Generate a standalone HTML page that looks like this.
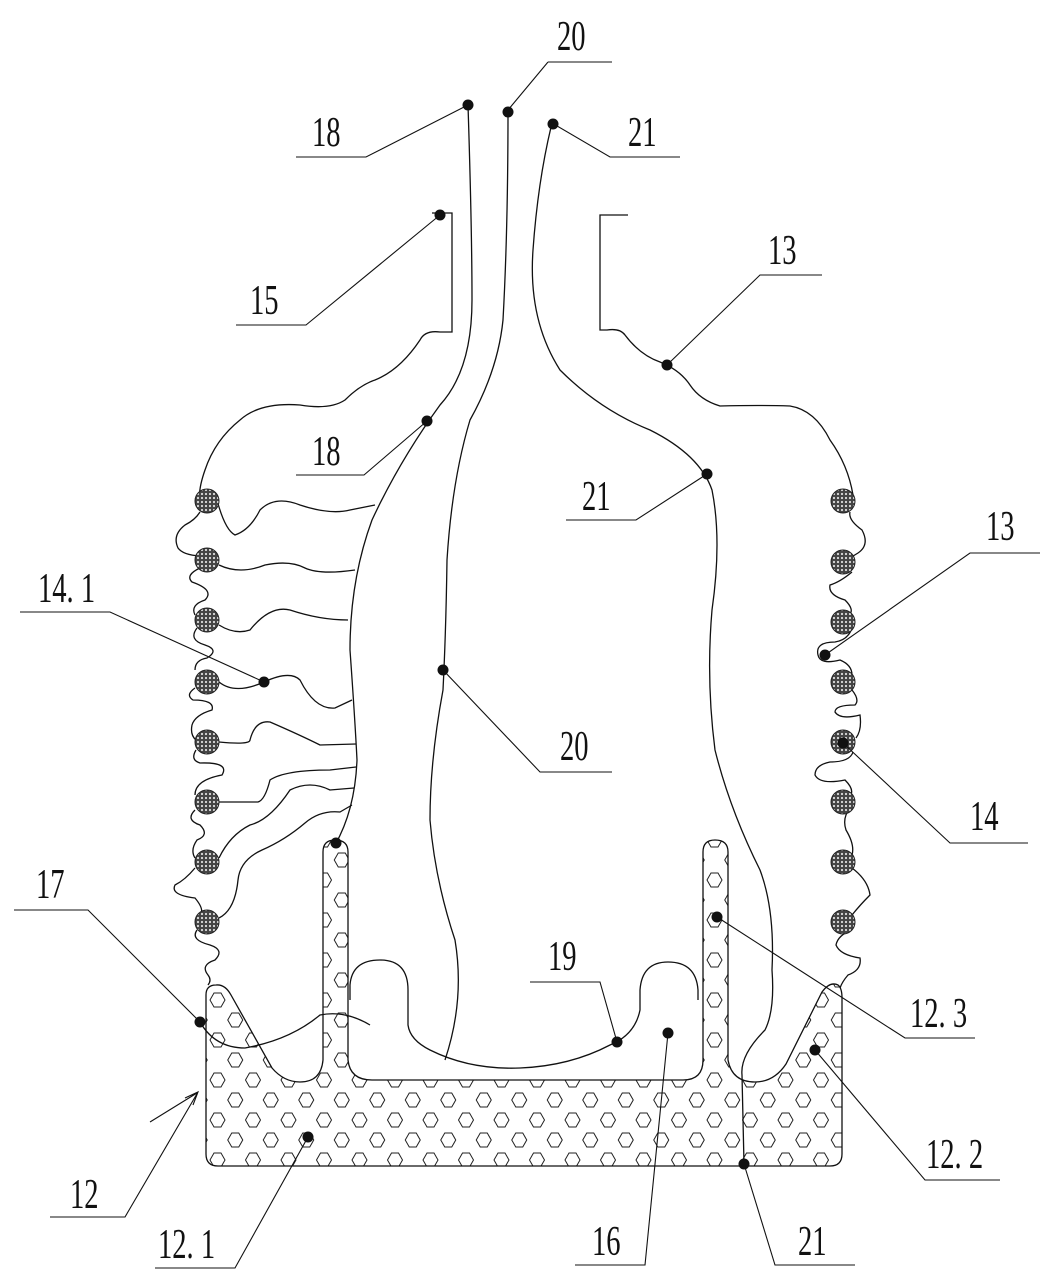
<!DOCTYPE html>
<html><head><meta charset="utf-8"><style>
html,body{margin:0;padding:0;background:#fff}
svg{display:block}
text{font-family:"Liberation Serif",serif;font-size:42px;fill:#111}
</style></head><body>
<svg width="1055" height="1279" viewBox="0 0 1055 1279" xmlns="http://www.w3.org/2000/svg">
<defs>
<pattern id="hex" x="0" y="0" width="35.5" height="40" patternUnits="userSpaceOnUse" patternTransform="translate(206,990)">
<polygon points="4,10 8,3 15,3 19,10 15,17 8,17" fill="none" stroke="#222" stroke-width="1"/>
<polygon points="21.75,30 25.75,23 32.75,23 36.75,30 32.75,37 25.75,37" fill="none" stroke="#222" stroke-width="1"/>
<polygon points="-13.75,30 -9.75,23 -2.75,23 1.25,30 -2.75,37 -9.75,37" fill="none" stroke="#222" stroke-width="1"/>
</pattern>
<pattern id="dots" width="4" height="4" patternUnits="userSpaceOnUse">
<rect width="4" height="4" fill="#444"/><circle cx="2" cy="2" r="1.1" fill="#ddd"/>
</pattern>
<clipPath id="tc"><path id="trayp" d="M206,995 Q206,985 216,985 Q225,984 231,995 L272,1068 Q284,1082 300,1082 Q321,1082 323,1060 L323,852 Q323,840 335,840 Q348,840 348,852 L348,1060 Q350,1080 372,1080 L683,1080 Q703,1080 703,1060 L703,852 Q703,840 715,840 Q728,840 728,852 L728,1060 Q732,1082 755,1082 Q774,1082 786,1064 L822,992 Q830,981 838,985 Q842,988 842,998 L842,1154 Q842,1166 830,1166 L218,1166 Q206,1166 206,1154 Z"/></clipPath>
</defs>
<g fill="none" stroke="#111" stroke-width="1.3">
<rect x="200" y="830" width="650" height="345" fill="url(#hex)" clip-path="url(#tc)" stroke="none"/>
<use href="#trayp"/>
<path d="M350,1000 L350,985 Q352,960 380,960 Q408,960 408,990 L408,1025 Q410,1040 430,1050 Q470,1070 520,1068 Q570,1066 610,1045 Q635,1035 640,1010 L640,990 Q642,962 668,962 Q696,962 698,990 L698,1000"/>
<path d="M200,1022 Q215,1048 245,1048 Q290,1040 320,1015 Q345,1010 370,1025"/>
<path d="M432,213 L452,213 L452,332 L440,332 Q425,330 420,340 Q400,370 375,380 Q360,385 345,400 Q330,410 300,405 Q260,402 240,420 Q215,440 205,470 Q198,490 200,500"/>
<path d="M200,512 Q195,520 185,525 Q172,535 178,548 Q183,555 200,556 M200,568 Q185,575 192,582 Q215,590 205,600 Q190,605 195,615 M197,628 Q188,640 205,645 Q220,650 207,658 Q195,660 195,670 M195,688 Q185,695 193,700 Q215,700 212,710 Q195,715 192,725 Q190,735 196,740 M196,750 Q190,760 200,763 Q230,762 222,775 Q195,780 195,795 M195,810 Q185,820 200,825 Q210,835 197,840 Q190,850 195,858 M195,868 Q185,880 175,885 Q170,895 195,898 Q205,910 200,915 M197,930 Q190,940 210,945 Q225,950 215,960 Q200,965 208,975 Q212,980 208,985"/>
<path d="M217,500 Q225,530 235,535 Q250,530 260,510 Q275,495 300,505 Q330,515 350,510 L375,505"/>
<path d="M219,565 Q240,575 265,565 Q290,560 305,568 Q320,575 355,570"/>
<path d="M219,625 Q235,635 250,630 Q270,605 290,610 Q320,620 348,620"/>
<path d="M219,682 Q235,695 264,682 Q290,670 300,680 Q315,710 335,708 L352,700"/>
<path d="M219,742 Q250,745 250,740 Q255,720 270,722 Q300,735 320,745 L356,744"/>
<path d="M219,802 L258,802 Q265,800 270,780 Q285,770 330,770 L356,767"/>
<path d="M219,858 Q230,835 250,825 Q270,820 290,790 Q310,780 330,790 L354,788"/>
<path d="M219,918 Q235,910 238,880 Q240,860 262,850 Q285,840 305,823 Q320,810 340,812 L352,805"/>
<path d="M628,215 L600,215 L600,330 L607,330 Q620,328 625,335 Q640,355 660,362 Q680,370 690,385 Q700,400 720,406 Q760,405 790,406 Q815,410 830,440 Q848,465 853,495"/>
<path d="M850,512 Q848,520 862,530 Q870,545 858,553 Q850,558 846,560 M852,572 Q840,582 830,585 Q828,595 845,600 Q855,610 849,615 M852,628 Q848,640 835,642 Q815,642 818,655 Q820,665 840,660 Q852,665 852,675 M852,690 Q860,700 855,705 Q835,705 835,712 Q840,720 860,715 Q862,730 856,738 M853,752 Q850,762 830,762 Q815,765 815,775 Q820,785 845,780 Q855,790 850,796 M850,808 Q842,818 846,830 Q855,845 852,855 M852,868 Q868,880 870,895 Q860,905 852,915 M852,930 Q838,935 836,945 Q840,955 860,958 Q862,970 848,975 Q842,982 840,988"/>
<path d="M468,105 Q472,230 472,300 Q472,370 440,405 Q400,460 372,520 Q350,580 350,650 Q355,720 357,760 Q355,810 335,845"/>
<path d="M508,110 Q508,230 503,320 Q498,370 470,420 Q452,480 447,560 Q446,630 443,690 Q430,760 430,820 Q435,880 455,940 Q465,1000 445,1060"/>
<path d="M552,123 Q538,180 533,250 Q528,320 560,370 Q600,410 650,430 Q700,455 712,490 Q722,540 712,610 Q706,680 715,750 Q730,810 760,870 Q775,910 772,970 Q775,1010 765,1030 Q740,1055 742,1075 L744,1164"/>
</g>
<g fill="url(#dots)" stroke="#222" stroke-width="1">
<circle cx="207" cy="501" r="12"/><circle cx="207" cy="560" r="12"/><circle cx="207" cy="620" r="12"/><circle cx="207" cy="682" r="12"/><circle cx="207" cy="742" r="12"/><circle cx="207" cy="802" r="12"/><circle cx="207" cy="862" r="12"/><circle cx="207" cy="922" r="12"/>
<circle cx="843" cy="501" r="12"/><circle cx="843" cy="562" r="12"/><circle cx="843" cy="622" r="12"/><circle cx="843" cy="682" r="12"/><circle cx="843" cy="742" r="12"/><circle cx="843" cy="802" r="12"/><circle cx="843" cy="862" r="12"/><circle cx="843" cy="922" r="12"/>
</g>
<g fill="none" stroke="#111" stroke-width="1.1">
<path d="M548,62 L612,62 M548,62 L508,110"/>
<path d="M296,157 L366,157 L468,105"/>
<path d="M680,157 L610,157 L552,123"/>
<path d="M236,325 L306,325 L440,215"/>
<path d="M822,275 L760,275 L667,365"/>
<path d="M296,475 L364,475 L427,421"/>
<path d="M566,520 L636,520 L707,474"/>
<path d="M1040,553 L970,553 L825,655"/>
<path d="M20,612 L110,612 L264,682"/>
<path d="M612,772 L540,772 L443,670"/>
<path d="M1028,843 L950,843 L843,743"/>
<path d="M14,910 L88,910 L200,1022"/>
<path d="M530,982 L600,982 L617,1042"/>
<path d="M975,1038 L905,1038 L717,917"/>
<path d="M1000,1180 L925,1180 L815,1050"/>
<path d="M50,1217 L125,1217 L198,1092 M150,1122 L197,1093 M185,1098 L198,1092 L193,1105"/>
<path d="M155,1268 L235,1268 L308,1137"/>
<path d="M575,1265 L645,1265 L668,1033"/>
<path d="M855,1265 L775,1265 L744,1164"/>
</g>
<g fill="#111">
<circle cx="468" cy="105" r="5.5"/><circle cx="508" cy="112" r="5.5"/><circle cx="553" cy="124" r="5.5"/><circle cx="440" cy="215" r="5.5"/><circle cx="667" cy="365" r="5.5"/><circle cx="427" cy="421" r="5.5"/><circle cx="707" cy="474" r="5.5"/><circle cx="825" cy="655" r="5.5"/><circle cx="264" cy="682" r="5.5"/><circle cx="443" cy="670" r="5.5"/><circle cx="843" cy="743" r="5.5"/><circle cx="336" cy="843" r="5.5"/><circle cx="717" cy="917" r="5.5"/><circle cx="200" cy="1022" r="5.5"/><circle cx="617" cy="1042" r="5.5"/><circle cx="668" cy="1033" r="5.5"/><circle cx="815" cy="1050" r="5.5"/><circle cx="308" cy="1137" r="5.5"/><circle cx="744" cy="1164" r="5.5"/>
</g>
<g>
<text transform="translate(557,50) scale(0.68,1)">20</text>
<text transform="translate(312,146) scale(0.68,1)">18</text>
<text transform="translate(628,146) scale(0.68,1)">21</text>
<text transform="translate(250,314) scale(0.68,1)">15</text>
<text transform="translate(768,264) scale(0.68,1)">13</text>
<text transform="translate(312,465) scale(0.68,1)">18</text>
<text transform="translate(582,510) scale(0.68,1)">21</text>
<text transform="translate(986,540) scale(0.68,1)">13</text>
<text transform="translate(38,602) scale(0.68,1)">14. 1</text>
<text transform="translate(560,760) scale(0.68,1)">20</text>
<text transform="translate(970,830) scale(0.68,1)">14</text>
<text transform="translate(36,898) scale(0.68,1)">17</text>
<text transform="translate(548,970) scale(0.68,1)">19</text>
<text transform="translate(910,1027) scale(0.68,1)">12. 3</text>
<text transform="translate(926,1168) scale(0.68,1)">12. 2</text>
<text transform="translate(70,1208) scale(0.68,1)">12</text>
<text transform="translate(158,1258) scale(0.68,1)">12. 1</text>
<text transform="translate(592,1255) scale(0.68,1)">16</text>
<text transform="translate(798,1255) scale(0.68,1)">21</text>
</g>
</svg>
</body></html>
